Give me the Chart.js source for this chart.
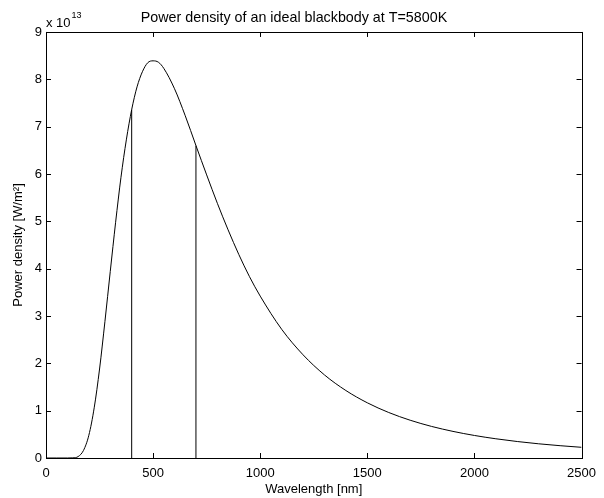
<!DOCTYPE html>
<html>
<head>
<meta charset="utf-8">
<script src="https://cdn.jsdelivr.net/npm/chart.js@4/dist/chart.umd.min.js"></script>
<style>
  html, body { margin: 0; padding: 0; background: #fff; }
  #wrap { width: 604px; height: 498px; position: relative; }
</style>
</head>
<body>
<div id="wrap"><canvas id="chart"></canvas></div>
<script>
(function () {
    'use strict';

    // wavelength [nm] and power density [x 1e13 W/m^2]
    var wavelengths = [0, 50, 100, 125, 150, 175, 200, 225, 250, 275, 300, 325, 350, 375, 400, 425, 450, 475,
        500, 525, 550, 600, 650, 700, 750, 800, 850, 900, 950, 1000, 1100, 1200, 1300, 1400, 1500, 1600,
        1700, 1800, 1900, 2000, 2100, 2200, 2300, 2400, 2500];
    var density = [0, 0, 0, 0.003, 0.03, 0.16, 0.48, 1.06, 1.88, 2.88, 3.94, 4.98, 5.93, 6.72, 7.36, 7.84, 8.16, 8.35,
        8.39, 8.36, 8.23, 7.80, 7.23, 6.60, 5.98, 5.38, 4.82, 4.30, 3.83, 3.42, 2.72, 2.18, 1.755, 1.425, 1.166, 0.961,
        0.798, 0.667, 0.562, 0.476, 0.406, 0.348, 0.300, 0.260, 0.226];

    // visible band edges
    var bandX = [400, 700];
    var bandTop = [7.36, 6.6];

    var xTicks = [0, 500, 1000, 1500, 2000, 2500];
    var yTicks = [0, 1, 2, 3, 4, 5, 6, 7, 8, 9];

    var FONT = 'Liberation Sans, Arial, Helvetica, sans-serif';

    var curve = wavelengths.map(function (w, i) { return { x: w, y: density[i] }; });

    var datasets = [{
        data: curve,
        borderColor: '#000',
        borderWidth: 1,
        pointRadius: 0,
        cubicInterpolationMode: 'monotone',
        fill: false
    }];
    bandX.forEach(function (w, i) {
        datasets.push({
            data: [{ x: w, y: 0 }, { x: w, y: bandTop[i] }],
            borderColor: '#000',
            borderWidth: 1,
            pointRadius: 0,
            fill: false
        });
    });

    var framePlugin = {
        id: 'frame',
        afterDraw: function (chart) {
            var ctx = chart.ctx;
            var a = chart.chartArea;
            var xs = chart.scales.x;
            var ys = chart.scales.y;
            var len = 5;
            ctx.save();
            ctx.strokeStyle = '#000';
            ctx.lineWidth = 1;
            ctx.strokeRect(Math.round(a.left) + 0.5, Math.round(a.top) + 0.5,
                Math.round(a.right - a.left), Math.round(a.bottom - a.top));
            ctx.beginPath();
            xTicks.forEach(function (v) {
                var px = Math.round(xs.getPixelForValue(v)) + 0.5;
                ctx.moveTo(px, a.bottom); ctx.lineTo(px, a.bottom - len);
                ctx.moveTo(px, a.top); ctx.lineTo(px, a.top + len);
            });
            yTicks.forEach(function (v) {
                var py = Math.round(ys.getPixelForValue(v)) + 0.5;
                ctx.moveTo(a.left, py); ctx.lineTo(a.left + len, py);
                ctx.moveTo(a.right, py); ctx.lineTo(a.right - len, py);
            });
            ctx.stroke();

            // exponent label
            ctx.fillStyle = '#000';
            ctx.textBaseline = 'alphabetic';
            ctx.textAlign = 'left';
            ctx.font = '13px ' + FONT;
            ctx.fillText('x 10', a.left, a.top - 5);
            var w = ctx.measureText('x 10').width;
            ctx.font = '9px ' + FONT;
            ctx.fillText('13', a.left + w + 1, a.top - 14);
            ctx.restore();
        }
    };

    function plain(v) { return String(v); }

    new Chart(document.getElementById('chart'), {
        type: 'line',
        data: { datasets: datasets },
        plugins: [framePlugin],
        options: {
            responsive: true,
            maintainAspectRatio: false,
            animation: false,
            layout: { padding: { left: 0, right: 16, top: 0, bottom: 0 } },
            plugins: {
                legend: { display: false },
                tooltip: { enabled: false },
                title: {
                    display: true,
                    text: 'Power density of an ideal blackbody at T=5800K',
                    color: '#000',
                    font: { family: FONT, size: 14.3, weight: 'normal' },
                    padding: { top: 9, bottom: 5.8 }
                }
            },
            scales: {
                x: {
                    type: 'linear',
                    min: 0,
                    max: 2500,
                    afterBuildTicks: function (s) { s.ticks = xTicks.map(function (v) { return { value: v }; }); },
                    afterFit: function (s) { s.height = 40; },
                    grid: { display: false, drawTicks: false },
                    border: { display: false },
                    ticks: { color: '#000', padding: 8, maxRotation: 0, callback: plain, font: { family: FONT, size: 13 } },
                    title: {
                        display: true,
                        text: 'Wavelength [nm]',
                        color: '#000',
                        font: { family: FONT, size: 13 },
                        padding: { top: 0, bottom: 1 }
                    }
                },
                y: {
                    min: 0,
                    max: 9,
                    afterBuildTicks: function (s) { s.ticks = yTicks.map(function (v) { return { value: v }; }); },
                    afterFit: function (s) { s.width = 46; },
                    grid: { display: false, drawTicks: false },
                    border: { display: false },
                    ticks: { color: '#000', padding: 4, callback: plain, font: { family: FONT, size: 13 } },
                    title: {
                        display: true,
                        text: 'Power density [W/m\u00b2]',
                        color: '#000',
                        font: { family: FONT, size: 13 },
                        padding: { top: 11, bottom: 0 }
                    }
                }
            }
        }
    });
})();
</script>
</body>
</html>
